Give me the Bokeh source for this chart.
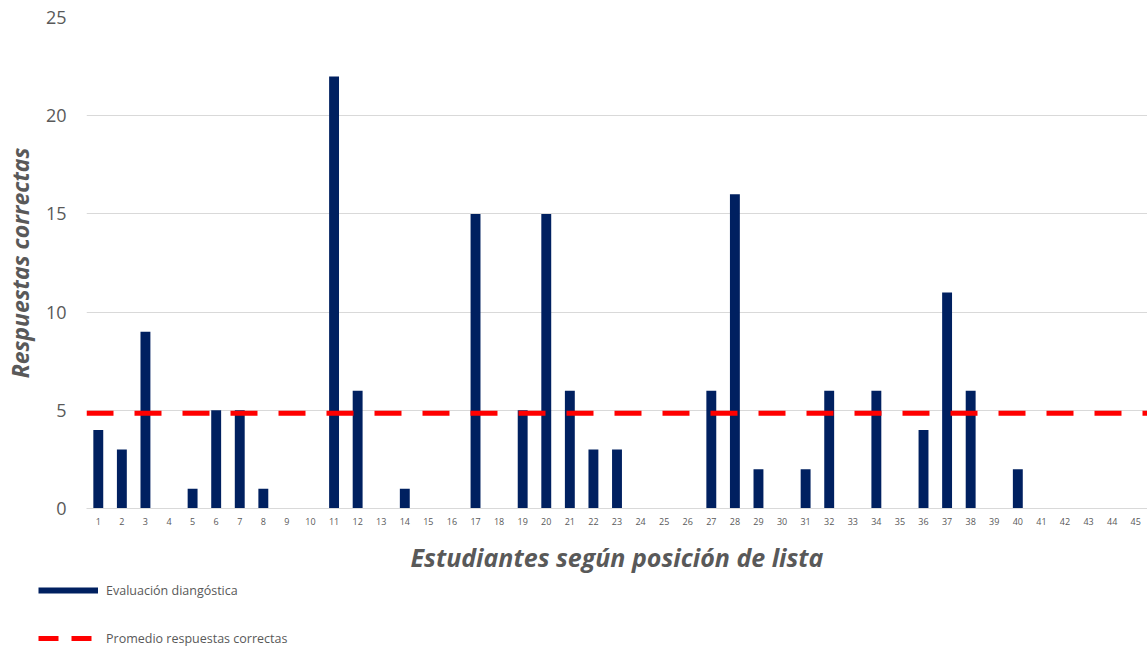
from bokeh.plotting import figure
from bokeh.layouts import column
from bokeh.models import Range1d, Legend, LegendItem, FixedTicker, ColumnDataSource
from bokeh.embed import file_html
from bokeh.resources import INLINE

students = list(range(1, 46))
correct = [4, 3, 9, 0, 1, 5, 5, 1, 0, 0,
           22, 6, 0, 1, 0, 0, 15, 0, 5, 15,
           6, 3, 3, 0, 0, 0, 6, 16, 2, 0,
           2, 6, 0, 6, 0, 4, 11, 6, 0, 2,
           0, 0, 0, 0, 0]
mean_value = 4.85
y_ticks = [0, 5, 10, 15, 20, 25]
series_labels = ["Evaluación diangóstica", "Promedio respuestas correctas"]

FONT = "Open Sans"
GRAY = "#595959"
NAVY = "#002060"
RED = "#FF0000"
DASH = "27 21"

p = figure(width=1147, height=580, output_backend="svg", toolbar_location=None,
           x_range=Range1d(0.5, 45.5), y_range=Range1d(0, 25),
           min_border_left=85, min_border_right=0, min_border_top=17, min_border_bottom=72)
p.outline_line_color = None
p.background_fill_color = "white"
p.border_fill_color = "white"
p.frame_align = False

src = ColumnDataSource(dict(x=students, y=correct))
p.vbar(x="x", top="y", width=0.42, source=src, fill_color=NAVY, line_color=None)

mean_src = ColumnDataSource(dict(x=[0.5, 45.5], y=[mean_value, mean_value]))
p.line(x="x", y="y", source=mean_src, line_color=RED, line_width=5, line_dash=DASH)

p.xgrid.grid_line_color = None
p.ygrid.grid_line_color = "#D9D9D9"
p.ygrid.grid_line_width = 1

p.yaxis.ticker = FixedTicker(ticks=y_ticks)
p.yaxis.axis_line_color = None
p.yaxis.major_tick_line_color = None
p.yaxis.minor_tick_line_color = None
p.yaxis.major_label_text_font = FONT
p.yaxis.major_label_text_font_size = "18px"
p.yaxis.major_label_text_color = GRAY
p.yaxis.major_label_standoff = 14
p.yaxis.axis_label = "Respuestas correctas"
p.yaxis.axis_label_text_font = FONT
p.yaxis.axis_label_text_font_size = "23px"
p.yaxis.axis_label_text_font_style = "bold italic"
p.yaxis.axis_label_text_color = GRAY
p.yaxis.axis_label_standoff = 7

p.xaxis.ticker = FixedTicker(ticks=students)
p.xaxis.axis_line_color = "#D9D9D9"
p.xaxis.major_tick_line_color = None
p.xaxis.minor_tick_line_color = None
p.xaxis.major_label_text_font = FONT
p.xaxis.major_label_text_font_size = "9px"
p.xaxis.major_label_text_color = GRAY
p.xaxis.major_label_standoff = 3
p.xaxis.axis_label = "Estudiantes según posición de lista"
p.xaxis.axis_label_text_font = FONT
p.xaxis.axis_label_text_font_size = "25px"
p.xaxis.axis_label_text_font_style = "bold italic"
p.xaxis.axis_label_text_color = GRAY
p.xaxis.axis_label_standoff = 12

# legend figure below the chart (swatch renderers lie outside its visible ranges)
lf = figure(width=1147, height=70, output_backend="svg", toolbar_location=None,
            x_axis_type=None, y_axis_type=None,
            x_range=Range1d(0, 1), y_range=Range1d(0, 1),
            min_border_left=0, min_border_right=0, min_border_top=0, min_border_bottom=0)
lf.frame_align = False
lf.outline_line_color = None
lf.xgrid.grid_line_color = None
lf.ygrid.grid_line_color = None
sw_bar = lf.line(x=[-3, -2], y=[-3, -3], line_color=NAVY, line_width=6)
sw_mean = lf.line(x=[-3, -2], y=[-3, -3], line_color=RED, line_width=5, line_dash="20 13")

legend = Legend(items=[
    LegendItem(label=series_labels[0], renderers=[sw_bar]),
    LegendItem(label=series_labels[1], renderers=[sw_mean]),
], location=(38, 3), orientation="vertical")
legend.glyph_width = 60
legend.glyph_height = 18
legend.label_height = 18
legend.spacing = 30
legend.padding = 0
legend.margin = 0
legend.label_standoff = 8
legend.label_text_font = FONT
legend.label_text_font_size = "12.5px"
legend.label_text_color = GRAY
legend.border_line_color = None
legend.background_fill_alpha = 0
lf.add_layout(legend, "center")

layout = column(p, lf, spacing=0)
open("out.html", "w").write(file_html(layout, INLINE))
